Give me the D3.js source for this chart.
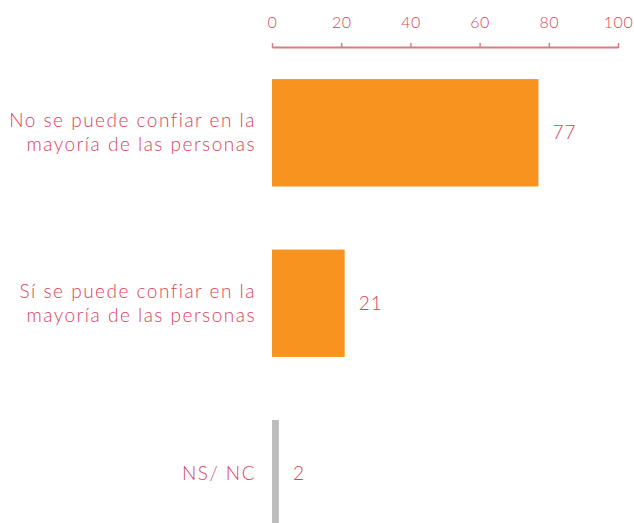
<!DOCTYPE html>
<html>
<head>
<meta charset="utf-8">
<script src="https://cdn.jsdelivr.net/npm/d3@7"></script>
<style>
  body { margin: 0; background: #fff; }
  text { font-family: Lato, "Open Sans", sans-serif; font-weight: 300; }
</style>
</head>
<body>
<div id="chart"></div>
<script>
const categories = [
  ['No se puede confiar en la', 'mayoría de las personas'],
  ['Sí se puede confiar en la', 'mayoría de las personas'],
  ['NS/ NC']
];
const values = [77, 21, 2];
const barColors = ['#f7931e', '#f7931e', '#bdbdbd'];
const tickValues = [0, 20, 40, 60, 80, 100];

const width = 634, height = 523;
const margin = { top: 47, right: 16, bottom: 0, left: 272 };

const textColor = '#d8435a';
const axisColor = '#dc7b87';

const svg = d3.select('#chart')
  .append('svg')
  .attr('width', width)
  .attr('height', height);

const x = d3.scaleLinear()
  .domain([0, 100])
  .range([margin.left, 618]);

const y = d3.scaleBand()
  .domain(d3.range(values.length))
  .range([45, 561.5])
  .paddingInner(0.37)
  .paddingOuter(0.2);

// top axis
const axis = svg.append('g')
  .attr('transform', 'translate(0,' + margin.top + ')')
  .call(d3.axisTop(x).tickValues(tickValues).tickSize(4).tickSizeOuter(0).tickPadding(15));
axis.select('.domain').attr('stroke', axisColor).attr('stroke-width', 2);
axis.selectAll('.tick line').attr('stroke', axisColor).attr('stroke-width', 1.5).attr('y1', 1).attr('y2', -4);
axis.selectAll('.tick text')
  .attr('fill', textColor)
  .style('font-size', '16px')
  .style('letter-spacing', '0.5px');

// bars
svg.selectAll('rect.bar')
  .data(values)
  .join('rect')
  .attr('class', 'bar')
  .attr('x', x(0))
  .attr('y', (d, i) => y(i))
  .attr('width', d => x(d) - x(0))
  .attr('height', y.bandwidth())
  .attr('fill', (d, i) => barColors[i]);

// value labels
svg.selectAll('text.value')
  .data(values)
  .join('text')
  .attr('class', 'value')
  .attr('x', d => x(d) + 14)
  .attr('y', (d, i) => y(i) + y.bandwidth() / 2)
  .attr('dy', '0.35em')
  .attr('fill', textColor)
  .style('font-size', '19px')
  .style('letter-spacing', '1px')
  .text(d => d);

// category labels
const lineH = 24;
const cats = svg.selectAll('text.cat')
  .data(categories)
  .join('text')
  .attr('class', 'cat')
  .attr('text-anchor', 'end')
  .attr('fill', textColor)
  .style('font-size', '19px')
  .style('letter-spacing', '1.5px')
  .attr('x', 256)
  .attr('y', (d, i) => y(i) + y.bandwidth() / 2);

cats.selectAll('tspan')
  .data(d => d.map((t, j) => ({ t, j, n: d.length })))
  .join('tspan')
  .attr('x', 256)
  .attr('dy', d => d.j === 0 ? ((-(d.n - 1) / 2) * lineH + 6.5) : lineH)
  .text(d => d.t);
</script>
</body>
</html>
